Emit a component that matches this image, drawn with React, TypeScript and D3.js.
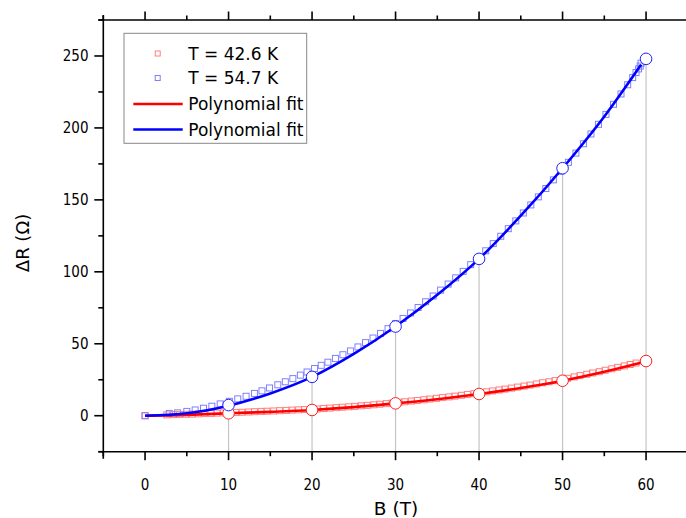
import React from "react";
import * as d3 from "d3";

const xTicks = [0, 10, 20, 30, 40, 50, 60];
const xMinor = [-5, 5, 15, 25, 35, 45, 55, 65];
const yTicks = [0, 50, 100, 150, 200, 250];
const yMinor = [-25, 25, 75, 125, 175, 225, 275];

const redB = [0, 2.6, 3.4, 4.1, 4.9, 5.6, 6.4, 7.1, 7.9, 8.6, 9.4, 10.1, 10.9, 11.6, 12.4, 13.1, 13.9, 14.6, 15.4, 16.1, 16.9, 17.6, 18.4, 19.1, 19.9, 20.6, 21.4, 22.1, 22.9, 23.6, 24.4, 25.1, 25.9, 26.6, 27.4, 28.1, 28.9, 29.6, 30.4, 31.1, 31.9, 32.6, 33.4, 34.1, 34.9, 35.6, 36.4, 37.1, 37.9, 38.6, 39.4, 40.1, 40.9, 41.6, 42.4, 43.1, 43.9, 44.6, 45.4, 46.1, 46.9, 47.6, 48.4, 49.1, 49.9, 50.6, 51.4, 52.1, 52.9, 53.6, 54.4, 55.1, 55.9, 56.6, 57.4, 58.1, 58.8];
const redR = [0, 0.6, 0.8, 0.9, 1.0, 1.1, 1.3, 1.5, 1.6, 1.8, 2.0, 2.1, 2.3, 2.4, 2.6, 2.8, 3.0, 3.1, 3.3, 3.5, 3.7, 3.9, 4.1, 4.3, 4.5, 4.7, 5.0, 5.3, 5.6, 5.9, 6.2, 6.5, 6.9, 7.2, 7.6, 8.0, 8.4, 8.8, 9.3, 9.7, 10.2, 10.6, 11.1, 11.6, 12.1, 12.6, 13.1, 13.6, 14.2, 14.8, 15.3, 15.9, 16.6, 17.2, 17.9, 18.5, 19.2, 19.9, 20.6, 21.3, 22.1, 22.9, 23.6, 24.4, 25.2, 26.0, 27.0, 27.9, 28.8, 29.7, 30.6, 31.6, 32.6, 33.6, 34.6, 35.6, 36.6];

const blueB = [0, 2.9, 3.9, 5, 6, 7, 8, 9, 10.1, 11.1, 12.1, 13.1, 14, 14.9, 15.9, 16.8, 17.7, 18.6, 19.4, 20.3, 21.1, 21.9, 22.8, 23.7, 24.6, 25.5, 26.4, 27.3, 28.2, 29.1, 30, 30.9, 31.8, 32.7, 33.6, 34.5, 35.4, 36.3, 37.2, 38.1, 39, 39.9, 40.8, 41.7, 42.6, 43.5, 44.4, 45.3, 46.2, 47.1, 48, 48.9, 49.8, 50.7, 51.6, 52.5, 53.4, 54.3, 55.2, 56.1, 57, 57.8, 58.4, 58.8, 59.1, 59.3, 59.4];
const blueR = [0, 1.6, 2, 3, 4, 5.2, 6.6, 8.2, 10, 11.7, 13.5, 15.5, 17.3, 19.3, 21.5, 23.6, 25.8, 28.2, 30.4, 32.8, 35, 37.2, 39.8, 42.4, 45, 47.8, 50.8, 54, 57.2, 60.5, 64, 67.6, 71.4, 75.2, 79.2, 83.2, 87.3, 91.5, 95.8, 100.3, 105, 109.7, 114.6, 119.6, 124.7, 130, 135.4, 140.9, 146.5, 152.1, 157.9, 163.9, 169.9, 176.1, 182.5, 189, 195.8, 202.5, 209.4, 216.4, 223.6, 230, 235, 238.5, 241, 243, 245];

const fitB = [0, 5, 10, 15, 20, 25, 30, 35, 40, 45, 50, 55, 59.4];
const redFit = [0, 0.6, 1.7, 2.7, 4.0, 6.0, 8.6, 11.5, 15.1, 19.3, 24.3, 30.5, 36.8];
const blueFit = [0, 1.7, 7, 15.5, 27, 43, 62, 84, 109, 139, 172, 208, 244];

const markB = [10, 20, 30, 40, 50, 60];
const markRed = [1.7, 4.0, 8.6, 15.1, 24.3, 38];
const markBlue = [7.4, 27, 62, 109, 172, 248];

const legendLabels = ["T = 42.6 K", "T = 54.7 K", "Polynomial fit", "Polynomial fit"];

const FONT = "'DejaVu Sans Condensed', 'DejaVu Sans', sans-serif";
const FONT_WIDE = "'DejaVu Sans', sans-serif";

export default function App() {
  const x = d3.scaleLinear().domain([-5, 65]).range([103.3, 687.8]);
  const y = d3.scaleLinear().domain([-25, 275]).range([451.7, 20]);
  const line = d3
    .line<[number, number]>()
    .x((d) => x(d[0]))
    .y((d) => y(d[1]))
    .curve(d3.curveMonotoneX);
  const redFitPts = fitB.map((b, i) => [b, redFit[i]] as [number, number]);
  const blueFitPts = fitB.map((b, i) => [b, blueFit[i]] as [number, number]);
  const x0 = x.range()[0];
  const yb = y.range()[0];
  const yt = y.range()[1];
  const sq = 6;
  const legendX = 124;
  const legendY = 33.3;
  const rowY = [53.5, 78, 104, 129.5];
  const legendColors = ["#ff0000", "#0000ff", "#ff0000", "#0000ff"];

  return (
    <svg
      width={686}
      height={518}
      style={{ position: "absolute", left: 0, top: 0, background: "#fff" }}
      fontFamily={FONT}
    >
      <rect x={0} y={0} width={686} height={518} fill="#fff" />
      {markB.map((b, i) => (
        <line
          key={"d" + b}
          x1={x(b)}
          x2={x(b)}
          y1={y(Math.max(markBlue[i], markRed[i]))}
          y2={yb}
          stroke="#c4c4c4"
          strokeWidth={1.2}
        />
      ))}
      {redB.map((b, i) => (
        <rect
          key={"r" + i}
          x={x(b) - sq / 2}
          y={y(redR[i]) - sq / 2}
          width={sq}
          height={sq}
          fill="none"
          stroke="#ff7f7f"
          strokeWidth={1}
        />
      ))}
      {blueB.map((b, i) => (
        <rect
          key={"b" + i}
          x={x(b) - sq / 2}
          y={y(blueR[i]) - sq / 2}
          width={sq}
          height={sq}
          fill="none"
          stroke="#7f7fff"
          strokeWidth={1}
        />
      ))}
      <path d={line(redFitPts) || ""} fill="none" stroke="#ff0000" strokeWidth={2.6} />
      <path d={line(blueFitPts) || ""} fill="none" stroke="#0000ff" strokeWidth={2.6} />
      {markB.map((b, i) => (
        <circle key={"cr" + b} cx={x(b)} cy={y(markRed[i])} r={5.8} fill="#fff" stroke="#ff2020" strokeWidth={1} />
      ))}
      {markB.map((b, i) => (
        <circle key={"cb" + b} cx={x(b)} cy={y(markBlue[i])} r={5.8} fill="#fff" stroke="#2020ff" strokeWidth={1} />
      ))}
      <g stroke="#000" strokeWidth={1.6}>
        <line x1={x0 - 5} x2={686} y1={yb} y2={yb} />
        <line x1={x0 - 5} x2={686} y1={yt} y2={yt} />
        <line x1={x0} x2={x0} y1={yt - 5} y2={yb + 7} />
        {xTicks.map((t) => (
          <g key={"xt" + t}>
            <line x1={x(t)} x2={x(t)} y1={yb} y2={yb + 8.5} />
            <line x1={x(t)} x2={x(t)} y1={yt} y2={yt - 8.5} />
          </g>
        ))}
        {xMinor.map((t) => (
          <g key={"xm" + t}>
            <line x1={x(t)} x2={x(t)} y1={yb} y2={yb + 4.5} />
            <line x1={x(t)} x2={x(t)} y1={yt} y2={yt - 4.5} />
          </g>
        ))}
        {yTicks.map((t) => (
          <line key={"yt" + t} x1={x0} x2={x0 - 9} y1={y(t)} y2={y(t)} />
        ))}
        {yMinor.map((t) => (
          <line key={"ym" + t} x1={x0} x2={x0 - 5} y1={y(t)} y2={y(t)} />
        ))}
      </g>
      {xTicks.map((t) => (
        <text key={"xl" + t} x={x(t)} y={489.5} textAnchor="middle" fontSize={15} fill="#000">
          {t}
        </text>
      ))}
      {yTicks.map((t) => (
        <text key={"yl" + t} x={88.5} y={y(t) + 5.5} textAnchor="end" fontSize={15} fill="#000">
          {t}
        </text>
      ))}
      <text x={396} y={515} textAnchor="middle" fontSize={18.5} fontFamily={FONT_WIDE} fill="#000">
        B (T)
      </text>
      <text
        transform={`translate(29,243) rotate(-90)`}
        textAnchor="middle"
        fontSize={18}
        fontFamily={FONT_WIDE}
        fill="#000"
      >
        ΔR (Ω)
      </text>
      <rect x={legendX} y={legendY} width={182.7} height={110} fill="#fff" stroke="#888" strokeWidth={1} />
      {legendLabels.map((lab, i) => (
        <g key={"lg" + i}>
          {i < 2 ? (
            <rect
              x={157.7 - 2.5}
              y={rowY[i] - 2.5}
              width={5}
              height={5}
              fill="none"
              stroke={i === 0 ? "#ff7f7f" : "#7f7fff"}
              strokeWidth={1}
            />
          ) : (
            <line x1={133.3} x2={182.7} y1={rowY[i]} y2={rowY[i]} stroke={legendColors[i]} strokeWidth={2.6} />
          )}
          <text x={188.3} y={rowY[i] + 6.3} fontSize={17} fontFamily={FONT_WIDE} fill="#000">
            {lab}
          </text>
        </g>
      ))}
    </svg>
  );
}
